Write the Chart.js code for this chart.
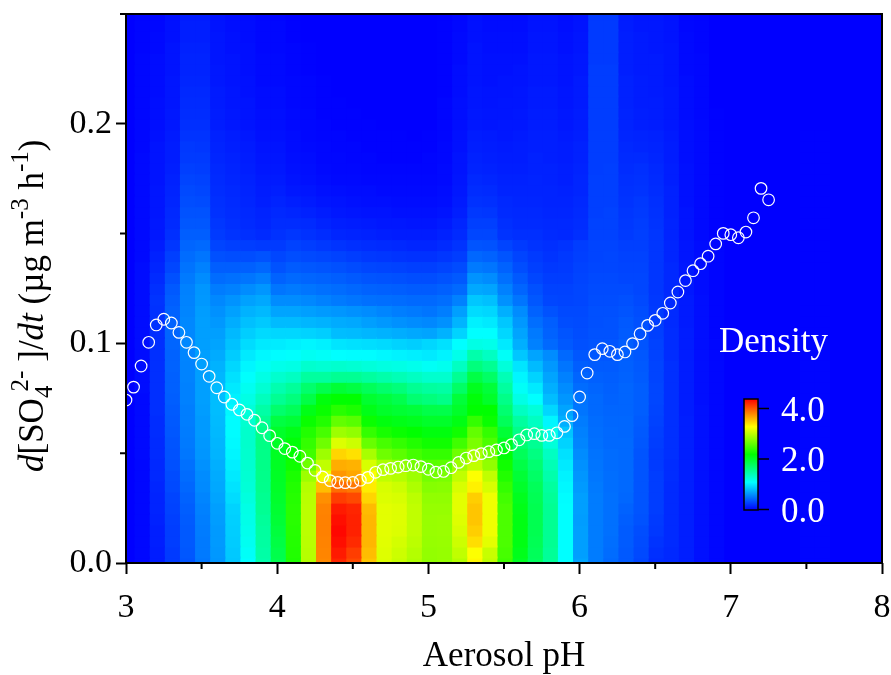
<!DOCTYPE html>
<html>
<head>
<meta charset="utf-8">
<script src="https://cdn.jsdelivr.net/npm/chart.js@4"></script>
<style>
  html, body { margin: 0; padding: 0; background: #fff; }
  canvas { display: block; }
</style>
</head>
<body>
<canvas id="heatChart" width="891" height="675"></canvas>
<script>
// cell centres of the density grid
const phCells = [3.0,3.1,3.2,3.3,3.4,3.5,3.6,3.7,3.8,3.9,4.0,4.1,4.2,4.3,4.4,4.5,4.6,4.7,4.8,4.9,5.0,5.1,5.2,5.3,5.4,5.5,5.6,5.7,5.8,5.9,6.0,6.1,6.2,6.3,6.4,6.5,6.6,6.7,6.8,6.9,7.0,7.1,7.2,7.3,7.4,7.5,7.6,7.7,7.8,7.9,8.0];
const rateCells = [0,0.005,0.01,0.015,0.02,0.025,0.03,0.035,0.04,0.045,0.05,0.055,0.06,0.065,0.07,0.075,0.08,0.085,0.09,0.095,0.1,0.105,0.11,0.115,0.12,0.125,0.13,0.135,0.14,0.145,0.15,0.155,0.16,0.165,0.17,0.175,0.18,0.185,0.19,0.195,0.2,0.205,0.21,0.215,0.22,0.225,0.23,0.235,0.24,0.245,0.25];

const blank = [0,0,0,0,0,0,0,0,0,0, 0,0,0,0,0,0,0,0,0,0, 0,0,0,0,0,0,0,0,0,0, 0,0,0,0,0,0,0,0,0,0, 0,0,0,0,0,0,0,0,0,0, 0];
const faint = [2,2,2,2,2,2,2,2,2,2, 2,2,2,2,2,2,2,2,2,2, 2,1,1,1,1,1,1,1,1,1, 1,1,1,1,1,1,1,1,1,1, 0,0,0,0,0,0,0,0,0,0, 0];

// density x 100, one line per pH cell, rate going up
const density = [
  blank,
  [3,3,3,3,3,3,3,3,3,3, 4,4,4,4,4,4,5,5,5,5, 5,5,5,5,5,5,5,5,4,4, 4,4,4,4,4,4,4,4,3,3, 3,3,3,3,3,3,3,2,2,2, 2],
  [12,12,13,13,14,15,15,16,17,17, 18,18,19,19,20,20,20,20,20,20, 20,20,21,21,22,20,18,16,14,12, 10,10,9,9,9,8,8,8,8,7, 6,6,6,5,5,5,5,4,4,3, 3],
  [25,25,26,26,27,28,29,31,32,34, 35,36,37,38,39,40,41,41,42,42, 43,43,42,42,40,38,34,30,27,23, 20,18,17,16,15,14,13,12,12,11, 10,10,9,9,9,8,8,8,7,7, 7],
  [36,37,38,38,39,40,42,44,46,48, 51,52,53,54,54,55,55,56,56,57, 58,58,58,57,56,55,52,49,46,43, 40,37,35,33,31,29,27,25,24,22, 20,19,18,17,16,15,15,14,13,13, 12],
  [51,52,52,53,54,55,57,59,60,62, 64,65,66,66,67,68,68,68,68,68, 68,68,68,67,65,64,60,55,50,45, 40,37,35,32,30,28,26,25,23,22, 20,19,18,17,16,15,15,14,13,13, 12],
  [64,65,66,66,67,68,70,72,73,75, 77,78,79,80,81,81,80,78,76,73, 70,68,65,62,58,53,46,40,34,29, 25,23,21,20,19,18,17,16,15,14, 12,12,11,11,10,10,9,9,9,8, 8],
  [85,86,87,88,89,90,94,97,100,102, 105,107,108,108,106,103,100,96,92,87, 83,79,74,69,63,55,48,40,33,27, 22,20,19,18,17,16,15,14,13,12, 10,10,9,9,8,8,8,7,7,6, 6],
  [109,112,115,117,119,120,123,126,128,129, 130,131,131,129,125,120,115,110,105,100, 94,88,82,76,69,60,50,41,33,26, 20,18,17,16,15,14,13,12,11,10, 8,8,8,7,7,6,6,6,5,5, 5],
  [145,147,149,150,152,155,156,158,159,160, 160,161,160,155,147,137,128,120,113,106, 100,93,86,79,72,64,54,44,35,25, 18,16,15,13,12,11,10,9,8,7, 6,6,5,5,4,4,4,3,3,3, 3],
  [184,186,189,192,195,197,199,201,202,203, 203,203,200,190,172,155,143,130,118,108, 101,92,80,70,60,50,42,35,30,25, 21,19,17,15,13,11,10,9,8,7, 6,6,5,5,4,4,4,3,3,3, 2],
  [231,232,233,234,235,235,234,232,229,224, 218,215,208,195,180,165,152,135,120,110, 103,92,80,70,60,52,45,39,33,28, 23,19,16,13,10,8,7,6,5,5, 4,4,3,3,3,2,2,2,1,1, 1],
  [295,296,297,298,298,298,297,295,285,265, 245,240,232,222,208,188,172,150,130,114, 105,90,78,68,58,50,43,37,31,26, 21,18,14,11,9,7,6,5,4,3, 3,3,2,2,2,1,1,1,0,0, 0],
  [378,379,380,381,381,380,375,355,320,300, 285,265,248,232,222,213,185,150,128,112, 103,88,76,66,55,48,42,36,30,24, 19,15,12,9,7,5,4,3,3,2, 2,1,1,1,1,0,0,0,0,0, 0],
  [420,425,430,433,430,425,410,390,372,362, 345,312,285,260,235,218,195,155,130,109, 98,81,73,64,52,46,40,34,28,22, 16,13,10,8,6,4,3,3,2,2, 1,1,1,0,0,0,0,0,0,0, 0],
  [405,410,418,422,422,420,405,385,365,360, 340,305,280,255,230,218,190,155,128,108, 96,80,72,62,50,44,38,32,26,20, 15,12,9,7,5,4,3,2,2,1, 1,1,0,0,0,0,0,0,0,0, 0],
  [352,355,358,358,358,356,345,335,325,310, 290,262,240,222,208,198,180,150,125,108, 95,78,68,60,48,42,36,30,24,19, 14,11,8,6,5,3,2,2,1,1, 1,0,0,0,0,0,0,0,0,0, 0],
  [312,313,314,315,315,315,312,310,300,290, 265,248,228,212,200,192,172,145,122,106, 93,76,65,57,47,41,35,29,23,18, 13,10,8,6,4,3,2,1,1,1, 0,0,0,0,0,0,0,0,0,0, 0],
  [303,305,308,312,313,313,310,305,295,280, 257,240,222,208,196,185,166,140,120,104, 90,74,62,54,46,40,34,28,22,17, 12,10,7,5,4,3,2,1,1,1, 0,0,0,0,0,0,0,0,0,0, 0],
  [293,295,298,300,300,300,298,292,285,268, 247,232,218,205,193,170,155,135,117,102, 88,72,60,52,45,39,33,27,21,16, 12,9,7,5,4,3,2,1,1,0, 0,0,0,0,0,0,0,0,0,0, 0],
  [280,281,282,283,283,282,280,275,268,255, 240,225,212,200,187,165,150,130,113,100, 92,70,58,50,45,39,33,27,21,16, 12,9,7,5,4,3,2,2,1,1, 0,0,0,0,0,0,0,0,0,0, 0],
  [282,282,283,284,284,282,280,276,270,257, 240,225,212,200,186,160,148,130,116,104, 96,76,62,54,47,41,35,29,23,18, 14,11,8,6,5,4,4,3,3,2, 2,2,2,1,1,1,1,1,1,1, 1],
  [295,300,305,310,313,315,315,310,300,285, 265,245,225,210,200,193,175,155,135,118, 109,90,77,68,55,45,38,32,26,22, 18,16,13,11,10,9,8,8,7,7, 6,6,6,5,5,5,4,4,4,3, 3],
  [330,326,341,348,352,352,348,333,326,300, 290,270,260,240,218,214,205,188,165,145, 120,109,103,94,85,72,63,52,44,36, 30,27,24,21,19,17,15,14,13,12, 10,10,9,9,8,8,8,8,7,7, 7],
  [300,303,315,320,320,320,320,310,300,280, 268,250,240,222,218,200,193,175,155,135, 118,109,100,92,82,70,60,50,42,35, 30,27,23,20,18,16,14,13,12,11, 9,9,8,8,7,7,7,6,6,5, 5],
  [245,248,250,250,250,250,246,240,232,225, 215,205,195,180,170,160,150,140,125,112, 100,92,85,75,62,55,48,42,36,29, 22,20,18,17,15,14,13,12,11,10, 10,9,9,8,8,7,7,6,6,5, 5],
  [203,207,210,210,210,208,205,200,195,188, 180,170,160,150,135,120,112,105,98,85, 75,70,65,60,50,43,38,33,29,25, 20,18,17,16,15,14,13,12,12,11, 10,10,9,9,8,8,7,6,6,5, 5],
  [178,180,182,184,184,184,182,180,175,170, 163,155,145,135,125,109,100,90,80,70, 55,52,47,42,37,34,30,27,25,22, 20,18,17,16,15,15,14,14,13,13, 12,12,11,11,10,10,10,9,9,8, 8],
  [152,153,155,155,155,155,153,150,145,140, 135,125,118,105,92,81,75,70,65,60, 45,42,40,35,30,28,26,24,22,20, 18,17,16,15,15,14,14,13,13,13, 12,12,11,11,10,10,10,9,9,8, 8],
  [109,109,109,109,109,109,108,106,104,100, 96,90,84,75,70,64,60,55,50,45, 38,36,33,31,29,28,26,25,24,22, 17,17,16,15,14,13,13,12,12,11, 10,10,9,9,8,8,8,7,7,6, 6],
  [70,68,68,68,67,68,68,66,64,62, 60,57,55,53,50,49,46,43,40,37, 34,33,32,31,30,30,29,28,27,26, 20,19,18,17,16,16,15,14,14,13, 12,12,11,11,11,10,10,9,9,8, 8],
  [53,53,53,53,53,53,53,52,51,50, 49,48,47,46,45,45,43,41,39,37, 36,35,34,34,33,32,31,30,29,29, 28,28,27,27,27,27,26,26,26,26, 26,26,26,26,26,26,25,25,25,25, 25],
  [45,46,47,48,48,48,48,47,47,46, 46,45,45,44,43,42,41,40,39,37, 36,35,35,34,33,32,31,30,30,29, 28,28,28,27,27,27,27,26,26,26, 26,26,26,26,26,26,25,25,25,25, 25],
  [38,38,39,39,40,42,44,45,45,45, 45,45,44,44,43,43,43,42,41,40, 40,39,38,36,34,32,30,29,28,27, 25,24,23,22,21,20,19,18,17,16, 15,15,14,14,14,13,13,13,13,12, 12],
  [30,31,32,33,35,36,36,36,36,36, 36,37,38,39,40,40,40,39,38,37, 36,35,34,33,31,30,30,29,28,27, 27,26,25,24,22,21,20,18,16,15, 13,13,12,12,12,11,11,11,11,10, 10],
  [19,20,22,24,25,26,26,26,26,25, 25,26,27,28,29,30,30,29,29,28, 28,27,26,25,24,23,23,23,23,23, 23,22,21,20,19,18,17,16,15,14, 12,12,12,11,11,11,11,10,10,10, 10],
  [17,17,18,18,18,18,18,18,19,19, 20,20,20,20,20,20,20,20,20,19, 19,19,18,18,18,17,17,17,16,16, 15,15,14,14,14,13,13,12,12,11, 10,10,10,10,9,9,9,9,8,8, 8],
  [13,13,13,13,13,13,13,13,13,13, 13,13,13,13,12,12,12,12,12,12, 12,12,11,11,11,10,10,10,9,9, 8,8,8,7,7,7,7,6,6,6, 6,5,5,5,5,4,4,4,4,3, 3],
  [7,7,7,7,7,7,7,7,7,7, 7,7,7,7,7,6,6,6,6,6, 6,6,6,6,6,5,5,5,5,5, 4,4,4,4,4,4,4,4,4,4, 4,3,3,3,3,3,3,2,2,2, 2],
  [3,3,3,3,3,3,3,3,3,3, 3,3,3,3,3,3,3,3,3,3, 3,2,2,2,2,2,2,2,2,2, 1,1,1,1,1,1,1,1,1,1, 1,1,0,0,0,0,0,0,0,0, 0],
  blank, blank, blank, blank, blank,
  faint, faint,
  blank, blank, blank, blank
];

// open circles
const pointPH = [3,3.05,3.1,3.15,3.2,3.25,3.3,3.35,3.4,3.45,3.5,3.55,3.6,3.65,3.7,3.75,3.8,3.85,3.9,3.95,4,4.05,4.1,4.15,4.2,4.25,4.3,4.35,4.4,4.45,4.5,4.55,4.6,4.65,4.7,4.75,4.8,4.85,4.9,4.95,5,5.05,5.1,5.15,5.2,5.25,5.3,5.35,5.4,5.45,5.5,5.55,5.6,5.65,5.7,5.75,5.8,5.85,5.9,5.95,6,6.05,6.1,6.15,6.2,6.25,6.3,6.35,6.4,6.45,6.5,6.55,6.6,6.65,6.7,6.75,6.8,6.85,6.9,6.95,7,7.05,7.1,7.15,7.2,7.25];
const pointRate = [0.0742,0.0801,0.0897,0.1005,0.1084,0.111,0.1093,0.105,0.1005,0.0958,0.0906,0.085,0.0798,0.0756,0.0723,0.0697,0.0677,0.065,0.0616,0.058,0.0545,0.0521,0.0505,0.0486,0.0455,0.0422,0.0392,0.0375,0.0367,0.0366,0.0367,0.0377,0.039,0.0413,0.0425,0.0431,0.0437,0.0443,0.0446,0.0439,0.0427,0.0414,0.0417,0.0434,0.0458,0.0478,0.0489,0.0498,0.0507,0.0515,0.0524,0.0539,0.0561,0.0583,0.0589,0.0581,0.0581,0.0593,0.0622,0.0671,0.0756,0.0865,0.0949,0.0976,0.0964,0.0949,0.0961,0.0999,0.1044,0.1082,0.1105,0.1137,0.1184,0.1234,0.1286,0.1331,0.1363,0.1397,0.1453,0.1501,0.1495,0.1481,0.1507,0.1572,0.1706,0.1654];

const xMinorTicks = [3.5,4.5,5.5,6.5,7.5];
const yMinorTicks = [0.05,0.15,0.25];
const barTicks = [0,2,4];
const densityTop = 4.36;

const mix = (a, b, t) => Math.round(a + (b - a) * t);

// blue > cyan > green > yellow > red
const densityColor = (v) => {
  const stops = [[0,0,255],[0,255,255],[0,255,0],[255,255,0],[255,0,0]];
  const p = Math.min(Math.max(v / densityTop, 0), 1) * 4;
  const i = Math.min(Math.floor(p), 3);
  const t = p - i;
  return `rgb(${mix(stops[i][0], stops[i+1][0], t)},${mix(stops[i][1], stops[i+1][1], t)},${mix(stops[i][2], stops[i+1][2], t)})`;
}

const cellDatasets = density.map((col, c) => {
  const half = 0.0025;
  return {
    type: 'bar',
    order: 2,
    grouped: false,
    barPercentage: 1,
    categoryPercentage: 1,
    borderWidth: 0,
    inflateAmount: 1,
    data: col.map((v, r) => ({
      x: phCells[c],
      y: [Math.max(rateCells[r] - half, 0), Math.min(rateCells[r] + half, 0.25)]
    })),
    backgroundColor: col.map(v => densityColor(v / 100))
  };
});

const serif = '"Liberation Serif", "Times New Roman", serif';

const drawFrame = {
  id: 'drawFrame',
  afterDraw(chart) {
    const { ctx, chartArea: a, scales } = chart;
    ctx.save();
    ctx.strokeStyle = '#000';
    ctx.lineWidth = 2;
    ctx.strokeRect(a.left, a.top, a.right - a.left, a.bottom - a.top);
    ctx.beginPath();
    xMinorTicks.forEach(v => {
      const x = scales.x.getPixelForValue(v);
      ctx.moveTo(x, a.bottom);
      ctx.lineTo(x, a.bottom + 6);
    });
    yMinorTicks.forEach(v => {
      const y = scales.y.getPixelForValue(v);
      ctx.moveTo(a.left, y);
      ctx.lineTo(a.left - 6, y);
    });
    ctx.stroke();
    ctx.restore();
  }
};

const yTitle = [
  { t: 'd', s: 35, it: true, dy: 0, gap: 0 },
  { t: '[SO', s: 35, dy: 0, gap: 0 },
  { t: '4', s: 25, dy: 9, gap: -6 },
  { t: '2-', s: 25, dy: -15, gap: 9 },
  { t: ']/', s: 35, dy: 0, gap: 0 },
  { t: 'dt', s: 35, it: true, dy: 0, gap: 0 },
  { t: ' (\u00b5g m', s: 35, dy: 0, gap: 0 },
  { t: '-3', s: 25, dy: -15, gap: 0 },
  { t: ' h', s: 35, dy: 0, gap: 0 },
  { t: '-1', s: 25, dy: -15, gap: 0 },
  { t: ')', s: 35, dy: 0, gap: 0 }
];

const drawYTitle = {
  id: 'drawYTitle',
  afterDraw(chart) {
    const { ctx } = chart;
    ctx.save();
    ctx.translate(43, 472);
    ctx.rotate(-Math.PI / 2);
    ctx.fillStyle = '#000';
    ctx.textBaseline = 'alphabetic';
    let x = 0;
    yTitle.forEach(r => {
      ctx.font = `${r.it ? 'italic ' : ''}${r.s}px ${serif}`;
      ctx.fillText(r.t, x, r.dy);
      x += ctx.measureText(r.t).width + r.gap;
    });
    ctx.restore();
  }
};

// colour key inside the plot
const drawKey = {
  id: 'drawKey',
  afterDraw(chart) {
    const { ctx } = chart;
    const left = 744, right = 758, top = 399, bottom = 510;
    const perUnit = 25.25;
    const yOf = v => 509.5 - v * perUnit;
    ctx.save();
    const g = ctx.createLinearGradient(0, bottom, 0, top);
    for (let i = 0; i <= 20; i++) g.addColorStop(i / 20, densityColor(densityTop * i / 20));
    ctx.fillStyle = g;
    ctx.fillRect(left, top, right - left, bottom - top);
    ctx.strokeStyle = '#000';
    ctx.lineWidth = 1.5;
    ctx.strokeRect(left, top, right - left, bottom - top);
    ctx.beginPath();
    barTicks.forEach(v => {
      ctx.moveTo(right, yOf(v));
      ctx.lineTo(right + 11, yOf(v));
    });
    ctx.stroke();
    ctx.fillStyle = '#fff';
    ctx.font = `35px ${serif}`;
    ctx.textBaseline = 'alphabetic';
    ctx.fillText('Density', 719, 352);
    barTicks.forEach(v => ctx.fillText(v.toFixed(1), 781, yOf(v) + 12));
    ctx.restore();
  }
};

new Chart(document.getElementById('heatChart'), {
  type: 'bar',
  data: {
    datasets: [
      ...cellDatasets,
      {
        type: 'scatter',
        order: 1,
        clip: 0,
        data: pointPH.map((x, i) => ({ x, y: pointRate[i] })),
        pointStyle: 'circle',
        pointRadius: 5.8,
        pointBorderWidth: 1.2,
        pointBorderColor: '#fff',
        pointBackgroundColor: 'rgba(0,0,0,0)'
      }
    ]
  },
  options: {
    responsive: false,
    animation: false,
    events: [],
    layout: { padding: { top: 14, right: 9, bottom: 0, left: 0 } },
    plugins: { legend: { display: false }, tooltip: { enabled: false } },
    scales: {
      x: {
        type: 'linear',
        min: 3,
        max: 8,
        offset: false,
        afterFit: s => { s.height = 112; s.paddingLeft = 0; s.paddingRight = 0; },
        border: { display: false },
        grid: { offset: false, drawOnChartArea: false, tickLength: 11, tickColor: '#000', tickWidth: 2 },
        ticks: { stepSize: 1, maxRotation: 0, color: '#000', padding: 14, font: { family: serif, size: 34 } },
        title: { display: true, text: 'Aerosol pH', color: '#000', padding: { top: 0, bottom: -3 }, font: { family: serif, size: 35 } }
      },
      y: {
        type: 'linear',
        min: 0,
        max: 0.25,
        afterFit: s => { s.width = 126; s.paddingTop = 0; s.paddingBottom = 0; },
        border: { display: false },
        grid: { drawOnChartArea: false, tickLength: 10, tickColor: '#000', tickWidth: 2 },
        ticks: { stepSize: 0.1, includeBounds: false, color: '#000', padding: 4, font: { family: serif, size: 34 }, callback: v => v.toFixed(1) }
      }
    }
  },
  plugins: [drawFrame, drawYTitle, drawKey]
});
</script>
</body>
</html>
